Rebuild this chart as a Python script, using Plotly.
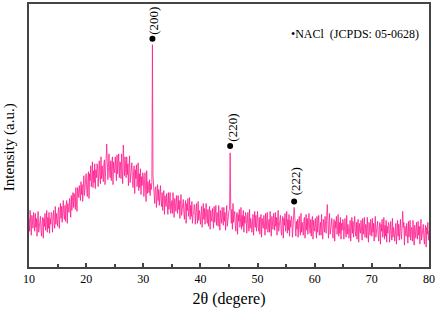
import numpy as np
import plotly.graph_objects as go

# 2-theta sampling grid (degrees), 0.1 deg step
two_theta = np.round(np.arange(10.0, 80.0001, 0.1), 1)

# Intensity (a.u.), 10 values per degree
intensity = [
    49, 36, 57, 43, 32, 52, 46, 39, 55, 41,        # 10
    36, 54, 40, 49, 31, 45, 56, 35, 43, 48,        # 11
    51, 37, 31, 45, 50, 29, 49, 41, 54, 37,        # 12
    42, 57, 35, 50, 39, 55, 34, 49, 43, 55,        # 13
    53, 35, 50, 57, 45, 39, 61, 43, 54, 50,        # 14
    41, 56, 60, 39, 54, 64, 49, 61, 45, 57,        # 15
    67, 52, 48, 62, 46, 62, 67, 44, 64, 58,        # 16
    55, 69, 61, 50, 72, 57, 67, 75, 60, 74,        # 17
    70, 58, 80, 66, 56, 80, 75, 70, 82, 69,        # 18
    67, 86, 73, 83, 66, 80, 92, 72, 81, 87,        # 19
    94, 78, 71, 89, 96, 69, 94, 87, 102, 81,       # 20
    88, 106, 80, 97, 85, 104, 79, 98, 90, 104,     # 21
    102, 81, 98, 107, 91, 84, 111, 89, 102, 97,    # 22
    86, 104, 108, 83, 99, 112, 124, 106, 88, 100,  # 23
    114, 96, 90, 107, 87, 105, 111, 83, 106, 98,   # 24
    95, 111, 100, 87, 113, 94, 105, 114, 90, 106,  # 25
    105, 89, 114, 98, 84, 123, 101, 92, 111, 94,   # 26
    90, 111, 93, 104, 82, 98, 112, 85, 95, 100,    # 27
    105, 87, 80, 96, 102, 74, 98, 89, 103, 81,     # 28
    87, 105, 77, 94, 80, 99, 73, 91, 82, 95,       # 29
    92, 71, 86, 95, 78, 66, 97, 74, 86, 80,        # 30
    75, 88, 72, 84, 78, 85, 224, 92, 80, 73,       # 31
    64, 79, 81, 60, 73, 83, 67, 78, 62, 72,        # 32
    82, 67, 61, 75, 57, 72, 77, 53, 72, 64,        # 33
    61, 74, 64, 53, 75, 58, 67, 75, 54, 67,        # 34
    67, 54, 75, 61, 50, 69, 63, 56, 72, 57,        # 35
    54, 72, 58, 67, 49, 63, 73, 52, 60, 65,        # 36
    68, 54, 48, 62, 67, 44, 64, 57, 69, 51,        # 37
    55, 70, 48, 62, 51, 66, 44, 52, 53, 63,        # 38
    61, 43, 57, 64, 51, 44, 66, 47, 57, 53,        # 39
    43, 58, 61, 40, 54, 64, 48, 59, 43, 54,        # 40
    64, 49, 44, 58, 41, 56, 61, 38, 57, 50,        # 41
    46, 59, 50, 39, 61, 45, 54, 62, 42, 55,        # 42
    54, 41, 62, 48, 37, 57, 51, 44, 60, 46,        # 43
    42, 60, 46, 55, 37, 51, 62, 41, 49, 54,        # 44
    57, 58, 115, 62, 44, 58, 38, 64, 45, 52,       # 45
    56, 42, 36, 50, 55, 33, 53, 46, 58, 40,        # 46
    45, 60, 38, 52, 41, 57, 35, 51, 44, 55,        # 47
    52, 34, 48, 55, 42, 36, 58, 39, 49, 45,        # 48
    35, 50, 53, 32, 46, 56, 40, 52, 36, 47,        # 49
    56, 41, 36, 50, 33, 48, 53, 30, 49, 42,        # 50
    39, 52, 43, 32, 54, 38, 47, 55, 35, 48,        # 51
    48, 35, 56, 42, 31, 51, 45, 38, 54, 40,        # 52
    37, 55, 41, 50, 32, 46, 57, 36, 44, 49,        # 53
    52, 38, 32, 46, 51, 29, 49, 42, 54, 36,        # 54
    41, 56, 34, 48, 37, 53, 31, 47, 40, 51,        # 55
    48, 30, 44, 50, 60, 52, 40, 31, 46, 38,        # 56
    48, 30, 44, 51, 38, 32, 54, 35, 45, 41,        # 57
    32, 47, 50, 29, 43, 53, 37, 49, 33, 44,        # 58
    54, 39, 34, 48, 31, 46, 51, 28, 47, 40,        # 59
    36, 49, 40, 29, 51, 35, 44, 52, 32, 45,        # 60
    45, 32, 53, 39, 28, 48, 42, 35, 51, 37,        # 61
    34, 52, 63, 47, 29, 43, 54, 33, 41, 46,        # 62
    49, 35, 29, 43, 48, 26, 46, 39, 51, 33,        # 63
    38, 53, 31, 45, 34, 50, 28, 44, 37, 48,        # 64
    46, 28, 42, 49, 36, 30, 52, 33, 43, 39,        # 65
    29, 44, 47, 26, 40, 50, 34, 46, 30, 41,        # 66
    51, 36, 31, 45, 28, 43, 48, 25, 44, 37,        # 67
    34, 47, 38, 27, 49, 33, 42, 50, 30, 43,        # 68
    42, 29, 50, 36, 25, 45, 39, 32, 48, 34,        # 69
    31, 49, 35, 44, 26, 40, 51, 30, 38, 43,        # 70
    46, 32, 26, 40, 45, 23, 43, 36, 48, 30,        # 71
    35, 50, 28, 42, 31, 47, 25, 41, 34, 45,        # 72
    43, 25, 39, 46, 33, 27, 49, 30, 40, 36,        # 73
    26, 41, 44, 23, 37, 47, 31, 43, 27, 38,        # 74
    48, 33, 28, 42, 56, 40, 45, 22, 41, 34,        # 75
    31, 44, 35, 24, 46, 30, 39, 47, 27, 40,        # 76
    39, 26, 47, 33, 22, 42, 36, 29, 45, 31,        # 77
    28, 46, 32, 41, 23, 37, 48, 27, 35, 40,        # 78
    43, 29, 23, 37, 42, 20, 40, 33, 45, 27,        # 79
    36,                                            # 80
]

# NaCl reflections
peak_pos = [31.6, 45.2, 56.4]
peak_dot = [230, 122, 66]
peak_labels = ["(200)", "(220)", "(222)"]
peak_label_y = [248, 140, 86]

x_ticks = [10, 20, 30, 40, 50, 60, 70, 80]

FONT = "Liberation Serif"

fig = go.Figure()
fig.add_trace(go.Scatter(
    x=two_theta, y=intensity, mode="lines",
    line=dict(color="#ff1a8c", width=0.8),
    showlegend=False, hoverinfo="skip",
))
fig.add_trace(go.Scatter(
    x=peak_pos, y=peak_dot, mode="markers",
    marker=dict(color="black", size=6),
    showlegend=False, hoverinfo="skip",
))
for px, py, lab in zip(peak_pos, peak_label_y, peak_labels):
    fig.add_annotation(x=px + 0.25, y=py, text=lab, textangle=-90,
                       showarrow=False, xref="x", yref="y",
                       font=dict(family=FONT, size=13, color="black"))

fig.add_annotation(x=0.65, y=0.885, xref="paper", yref="paper",
                   xanchor="left", yanchor="middle",
                   text="•NACl  (JCPDS: 05-0628)", showarrow=False,
                   font=dict(family=FONT, size=12, color="black"))
fig.add_annotation(x=-0.048, y=0.455, xref="paper", yref="paper",
                   xanchor="center", yanchor="middle",
                   text="Intensity (a.u.)", textangle=-90, showarrow=False,
                   font=dict(family=FONT, size=15, color="black"))

fig.update_layout(
    width=437, height=312,
    margin=dict(l=29, r=7, t=2, b=45),
    paper_bgcolor="white", plot_bgcolor="white",
    font=dict(family=FONT, color="black"),
    xaxis=dict(
        range=[10, 80], tickvals=x_ticks, ticks="inside", ticklen=4,
        tickcolor="#444", tickwidth=1.5,
        minor=dict(dtick=5, tick0=10, ticks="inside", ticklen=3, tickcolor="#444"),
        showline=True, linecolor="#444", linewidth=1.5, mirror=True,
        showgrid=False, zeroline=False,
        tickfont=dict(family=FONT, size=12, color="black"),
        title=dict(text="2θ (degere)", font=dict(family=FONT, size=16, color="black"),
                   standoff=8),
    ),
    yaxis=dict(
        range=[0, 265], showticklabels=False, ticks="",
        showline=True, linecolor="#444", linewidth=1.5, mirror=True,
        showgrid=False, zeroline=False,
    ),
)

fig.write_html("out.html", config={"displayModeBar": False},
               post_script="document.body.style.margin='0';document.body.style.overflow='hidden';")
